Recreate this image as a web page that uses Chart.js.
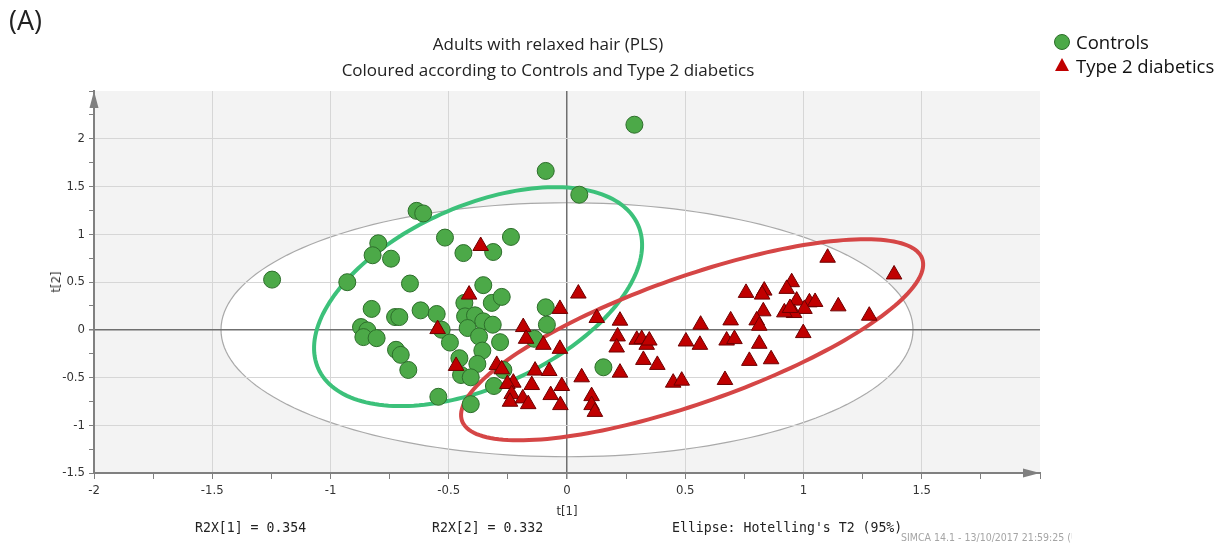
<!DOCTYPE html>
<html>
<head>
<meta charset="utf-8">
<script src="https://cdn.jsdelivr.net/npm/chart.js@4.4.1/dist/chart.umd.min.js"></script>
<style>
  html, body { margin: 0; padding: 0; background: #fff; }
  #wrap { position: relative; width: 1225px; height: 549px; overflow: hidden; font-family: 'Open Sans', sans-serif; color: #222; }
  #chart { position: absolute; left: 0; top: 0; }
  .txt { position: absolute; white-space: nowrap; }
  #panel { left: 9px; top: 4px; font-size: 27px; line-height: 32px; }
  .title { left: 548px; transform: translateX(-50%); font-size: 17px; line-height: 20px; color: #222; }
  #title1 { top: 34px; }
  #title2 { top: 60px; }
  .leg { left: 1076px; font-size: 18.5px; line-height: 22px; color: #111; }
  #legC { top: 31px; }
  #legT { top: 55px; }
  #dotC { position: absolute; left: 1054px; top: 34px; width: 16px; height: 16px; border-radius: 50%; background: #4ca948; border: 1px solid #2d6e2b; box-sizing: border-box; }
  #triT { position: absolute; left: 1055px; top: 58px; width: 0; height: 0; border-left: 7.5px solid transparent; border-right: 7.5px solid transparent; border-bottom: 13px solid #c00000; }
  .axt { font-family: 'DejaVu Sans Condensed', 'Liberation Sans Narrow', sans-serif; font-size: 13px; line-height: 16px; color: #333; }
  #t1 { left: 567px; top: 503px; transform: translateX(-50%); }
  #t2 { left: 56px; top: 282px; transform: translate(-50%, -50%) rotate(-90deg); }
  .stat { top: 520px; font-family: 'DejaVu Sans Mono', monospace; font-size: 13.2px; line-height: 16px; color: #222; }
  #r1 { left: 195px; }
  #r2 { left: 432px; }
  #ell { left: 672px; }
  #simca { left: 901px; top: 530px; width: 171px; overflow: hidden; font-family: 'DejaVu Sans Condensed', sans-serif; font-size: 10.5px; line-height: 14px; color: #a5a5a5; }
</style>
</head>
<body>
<div id="wrap">
  <canvas id="chart" width="1225" height="549"></canvas>
  <div class="txt" id="panel">(A)</div>
  <div class="txt title" id="title1">Adults with relaxed hair (PLS)</div>
  <div class="txt title" id="title2">Coloured according to Controls and Type 2 diabetics</div>
  <div id="dotC"></div>
  <div class="txt leg" id="legC">Controls</div>
  <div id="triT"></div>
  <div class="txt leg" id="legT">Type 2 diabetics</div>
  <div class="txt axt" id="t1">t[1]</div>
  <div class="txt axt" id="t2">t[2]</div>
  <div class="txt stat" id="r1">R2X[1] = 0.354</div>
  <div class="txt stat" id="r2">R2X[2] = 0.332</div>
  <div class="txt stat" id="ell">Ellipse: Hotelling's T2 (95%)</div>
  <div class="txt" id="simca">SIMCA 14.1 - 13/10/2017 21:59:25 (UTC+1)</div>
</div>
<script>
// scores: t[1] (x) and t[2] (y)
const controlsT1 = [-0.636, -0.608, -0.516, -0.798, -0.822, -0.744, -1.247, -0.929, -0.664, -0.826,
                    -0.727, -0.709, -0.619, -0.551, -0.871, -0.844, -0.861, -0.805, -0.530, -0.495,
                    -0.723, -0.703, -0.671, -0.544, 0.285, -0.090, 0.052, -0.438, -0.312, -0.237,
                    -0.354, -0.434, -0.318, -0.276, -0.431, -0.389, -0.354, -0.314, -0.420, -0.372,
                    -0.283, -0.358, -0.455, -0.379, -0.448, -0.407, -0.407, -0.090, -0.085, -0.138,
                    -0.269, -0.309, 0.154];
const controlsT2 = [1.245, 1.218, 0.965, 0.905, 0.780, 0.744, 0.525, 0.498, 0.484, 0.218,
                    0.133, 0.133, 0.203, 0.165, 0.028, -0.007, -0.077, -0.088, 0.000, -0.134,
                    -0.210, -0.263, -0.421, -0.702, 2.147, 1.663, 1.414, 0.803, 0.814, 0.972,
                    0.467, 0.281, 0.281, 0.344, 0.140, 0.151, 0.088, 0.053, 0.018, -0.070,
                    -0.130, -0.218, -0.298, -0.358, -0.474, -0.498, -0.779, 0.235, 0.053, -0.095,
                    -0.421, -0.589, -0.393];

const diabeticsT1 = [-0.365, -0.547, -0.469, -0.414, 0.048, -0.030, 0.126, 0.224, -0.185, -0.173,
                     -0.100, -0.030, 0.214, 0.210, 0.295, 0.316, 0.337, 0.348, 0.323, 0.382,
                     0.503, 0.449, 0.485, 0.224, 0.062, -0.297, -0.276, -0.227, -0.252, -0.149,
                     -0.135, -0.075, -0.022, -0.234, -0.241, -0.187, -0.164, -0.069, -0.028, 0.104,
                     0.104, 0.118, 1.102, 1.383, 0.950, 0.929, 0.834, 0.825, 0.757, 0.971,
                     1.025, 1.049, 1.147, 1.004, 0.960, 0.919, 0.943, 0.830, 0.802, 0.813,
                     1.278, 0.692, 0.565, 0.999, 0.562, 0.675, 0.708, 0.813, 0.771, 0.863,
                     0.668];
const diabeticsT2 = [0.877, 0.007, -0.379, 0.368, 0.379, 0.218, 0.123, 0.095, 0.028, -0.095,
                     -0.158, -0.200, -0.070, -0.186, -0.105, -0.098, -0.158, -0.113, -0.316, -0.368,
                     -0.123, -0.554, -0.533, -0.449, -0.498, -0.368, -0.414, -0.554, -0.568, -0.579,
                     -0.428, -0.432, -0.589, -0.674, -0.754, -0.719, -0.779, -0.684, -0.789, -0.695,
                     -0.789, -0.860, 0.754, 0.579, 0.498, 0.428, 0.410, 0.368, 0.386, 0.305,
                     0.287, 0.291, 0.245, 0.218, 0.175, 0.182, 0.228, 0.193, 0.098, 0.042,
                     0.147, 0.098, 0.053, -0.035, -0.158, -0.113, -0.098, -0.147, -0.326, -0.309,
                     -0.526];

const xTickLabels = ['-2', '-1.5', '-1', '-0.5', '0', '0.5', '1', '1.5'];
const yTickLabels = ['-1.5', '-1', '-0.5', '0', '0.5', '1', '1.5', '2'];

// ellipses in data units: centre + two conjugate half-axis vectors
const hotelling = { cx: 0, cy: 0, ux: 1.463, uy: 0, vx: 0, vy: 1.33 };
const controlsEllipse = { cx: -0.376, cy: 0.347, ux: 0.676, uy: 0.752, vx: -0.155, vy: 0.865 };
const diabeticsEllipse = { cx: 0.529, cy: -0.105, ux: 0.973, uy: 0.848, vx: -0.088, vy: 0.624 };

const toPoints = (xs, ys) => xs.map((v, i) => ({ x: v, y: ys[i] }));

function tracePath(ctx, xs, ys, e) {
    ctx.beginPath();
    for (let i = 0; i <= 180; i++) {
        const t = i / 180 * Math.PI * 2;
        const px = xs.getPixelForValue(e.cx + e.ux * Math.cos(t) + e.vx * Math.sin(t));
        const py = ys.getPixelForValue(e.cy + e.uy * Math.cos(t) + e.vy * Math.sin(t));
        if (i === 0) ctx.moveTo(px, py); else ctx.lineTo(px, py);
    }
    ctx.closePath();
}

const ellipsePlugin = {
    id: 'ellipses',
    beforeDraw(chart) {
        const { ctx, chartArea: a, scales: { x, y } } = chart;
        ctx.save();
        ctx.fillStyle = '#f3f3f3';
        ctx.fillRect(a.left, a.top, a.width, a.height);
        ctx.beginPath();
        ctx.rect(a.left, a.top, a.width, a.height);
        ctx.clip();
        tracePath(ctx, x, y, hotelling);
        ctx.fillStyle = '#ffffff';
        ctx.fill();
        ctx.strokeStyle = '#a9a9a9';
        ctx.lineWidth = 1.2;
        ctx.stroke();
        ctx.restore();
    },
    beforeDatasetsDraw(chart) {
        const { ctx, scales: { x, y } } = chart;
        ctx.save();
        ctx.lineWidth = 4;
        tracePath(ctx, x, y, controlsEllipse);
        ctx.strokeStyle = '#3cc17a';
        ctx.stroke();
        tracePath(ctx, x, y, diabeticsEllipse);
        ctx.strokeStyle = '#d54646';
        ctx.stroke();
        ctx.restore();
    },
    afterDraw(chart) {
        const { ctx, chartArea: a } = chart;
        ctx.save();
        ctx.fillStyle = '#808080';
        // y axis arrow
        ctx.beginPath();
        ctx.moveTo(a.left, a.top);
        ctx.lineTo(a.left - 4.5, a.top + 17);
        ctx.lineTo(a.left + 4.5, a.top + 17);
        ctx.closePath();
        ctx.fill();
        // x axis arrow
        ctx.beginPath();
        ctx.moveTo(a.right, a.bottom);
        ctx.lineTo(a.right - 17, a.bottom - 4.5);
        ctx.lineTo(a.right - 17, a.bottom + 4.5);
        ctx.closePath();
        ctx.fill();
        ctx.restore();
    }
};

const isHalf = v => Math.abs(v * 2 - Math.round(v * 2)) < 1e-9;
const tickFont = { family: "'DejaVu Sans Condensed', 'Liberation Sans Narrow', sans-serif", size: 13 };

function gridColor(edgeA, edgeB) {
    return ctx => {
        const v = ctx.tick.value;
        if (Math.abs(v) < 1e-9) return '#6f6f6f';
        if (v === edgeA || v === edgeB) return 'rgba(0,0,0,0)';
        return isHalf(v) ? '#d6d6d6' : 'rgba(0,0,0,0)';
    };
}

new Chart(document.getElementById('chart'), {
    type: 'scatter',
    data: {
        datasets: [{
            label: 'Type 2 diabetics',
            data: toPoints(diabeticsT1, diabeticsT2),
            pointStyle: 'triangle',
            pointRadius: 9,
            backgroundColor: '#c00000',
            borderColor: '#6e0000',
            borderWidth: 1,
            order: 0
        }, {
            label: 'Controls',
            data: toPoints(controlsT1, controlsT2),
            pointStyle: 'circle',
            pointRadius: 8.5,
            backgroundColor: '#4ca948',
            borderColor: '#2d6e2b',
            borderWidth: 1,
            order: 1
        }]
    },
    options: {
        responsive: false,
        animation: false,
        devicePixelRatio: 1,
        layout: { padding: { left: 0, top: 91, right: 185, bottom: 0 } },
        plugins: { legend: { display: false }, tooltip: { enabled: false } },
        scales: {
            x: {
                type: 'linear',
                min: -2, max: 2,
                afterFit: s => { s.height = 76; },
                ticks: {
                    stepSize: 0.25, autoSkip: false, maxRotation: 0,
                    color: '#333', font: tickFont, padding: 4,
                    callback: v => { const s = String(Math.round(v * 100) / 100); return xTickLabels.includes(s) ? s : ''; }
                },
                grid: {
                    color: gridColor(-2, 2),
                    lineWidth: ctx => Math.abs(ctx.tick.value) < 1e-9 ? 1.5 : 1,
                    tickColor: '#7f7f7f', tickLength: 6
                },
                border: { color: '#808080', width: 2 }
            },
            y: {
                type: 'linear',
                min: -1.5, max: 2.5,
                afterFit: s => { s.width = 94; },
                ticks: {
                    stepSize: 0.25, autoSkip: false,
                    color: '#333', font: tickFont, padding: 4,
                    callback: v => { const s = String(Math.round(v * 100) / 100); return yTickLabels.includes(s) ? s : ''; }
                },
                grid: {
                    color: gridColor(-1.5, 2.5),
                    lineWidth: ctx => Math.abs(ctx.tick.value) < 1e-9 ? 1.5 : 1,
                    tickColor: '#7f7f7f', tickLength: 5
                },
                border: { color: '#808080', width: 2 }
            }
        }
    },
    plugins: [ellipsePlugin]
});
</script>
</body>
</html>
